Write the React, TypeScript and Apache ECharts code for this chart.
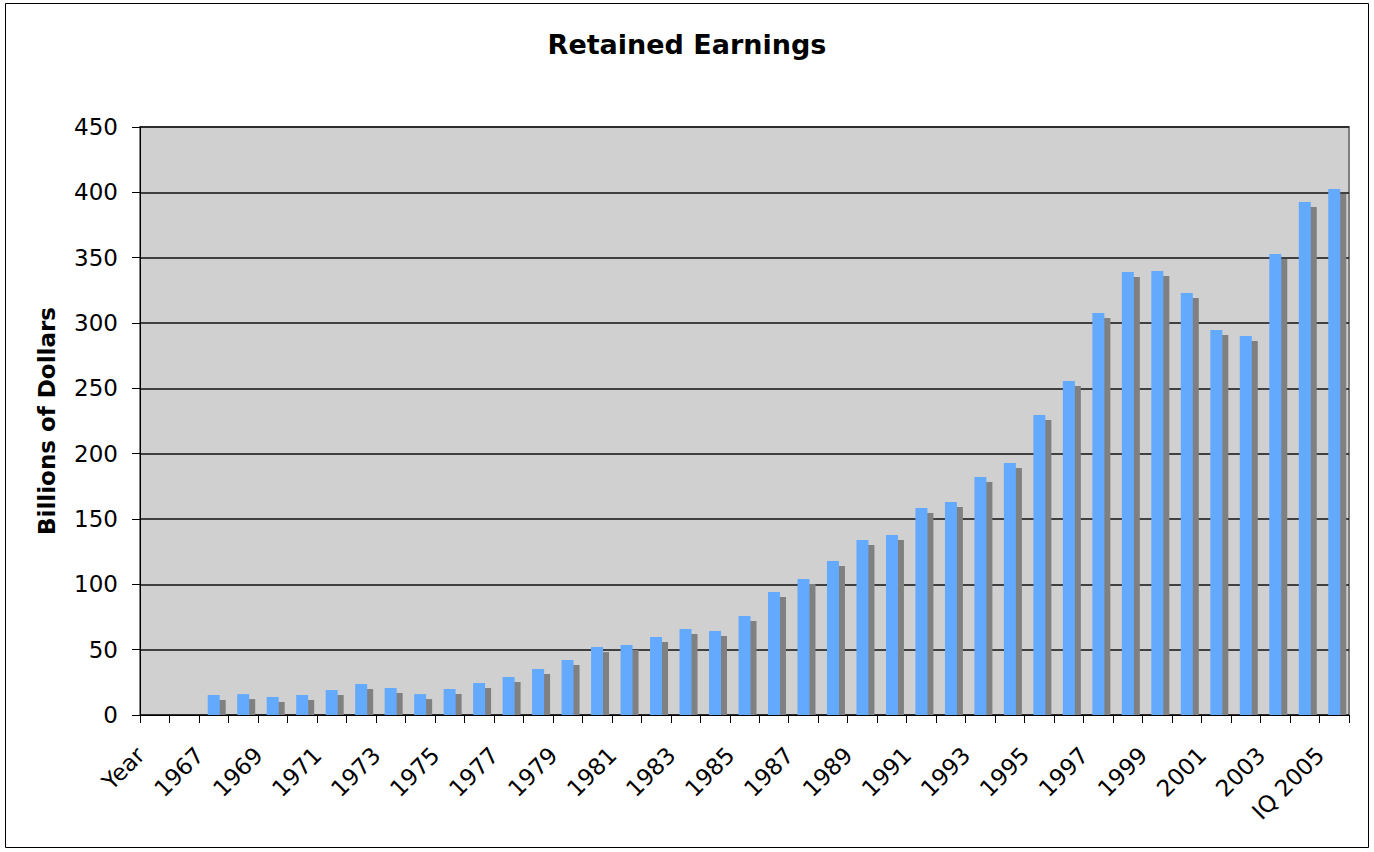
import React, { useEffect, useRef } from "react";
import * as echarts from "echarts";

const categories: string[] = [
  "Year", "1966", "1967", "1968", "1969", "1970", "1971", "1972", "1973", "1974",
  "1975", "1976", "1977", "1978", "1979", "1980", "1981", "1982", "1983", "1984",
  "1985", "1986", "1987", "1988", "1989", "1990", "1991", "1992", "1993", "1994",
  "1995", "1996", "1997", "1998", "1999", "2000", "2001", "2002", "2003", "2004",
  "IQ 2005",
];

const retainedEarnings: (number | null)[] = [
  null, null, 15.3, 16, 13.8, 15.3, 19.1, 23.7, 20.7, 16,
  19.9, 24.5, 29.1, 35.2, 42.1, 52, 53.6, 59.7, 65.8, 64.3,
  75.8, 94.1, 104.1, 117.9, 133.9, 137.8, 158.4, 163, 182.1, 192.9,
  229.6, 255.6, 307.7, 339, 339.8, 323, 294.6, 290, 352.8, 392.6,
  402.5,
];

const yTicks = { min: 0, max: 450, interval: 50 };

const FONT = "DejaVu Sans";

export default function App() {
  const ref = useRef<HTMLDivElement>(null);
  useEffect(() => {
    if (!ref.current) return;
    const chart = echarts.init(ref.current, undefined, { renderer: "svg" });
    const shadowData = retainedEarnings
      .map((v, i) => (v == null ? null : [i, v]))
      .filter((d) => d != null) as number[][];
    chart.setOption({
      animation: false,
      backgroundColor: "#ffffff",
      title: {
        text: "Retained Earnings",
        left: "center",
        top: 26,
        textStyle: { fontFamily: FONT, fontSize: 27, fontWeight: "bold", color: "#000" },
      },
      graphic: [
        {
          type: "rect",
          shape: { x: 5.5, y: 3.5, width: 1363, height: 844 },
          style: { fill: "none", stroke: "#000", lineWidth: 1 },
          silent: true,
        },
      ],
      grid: {
        left: 140,
        right: 25,
        top: 127,
        bottom: 137,
        show: true,
        backgroundColor: "#d0d0d0",
        borderColor: "#808080",
        borderWidth: 2,
      },
      xAxis: {
        type: "category",
        data: categories,
        axisLine: { show: true, lineStyle: { color: "#000", width: 1 } },
        axisTick: { show: true, interval: 0, length: 8, lineStyle: { color: "#000" } },
        axisLabel: {
          interval: 1,
          rotate: 45,
          margin: 22,
          padding: [0, 20, 0, 0],
          fontFamily: FONT,
          fontSize: 23,
          color: "#000",
        },
        splitLine: { show: false },
      },
      yAxis: {
        type: "value",
        min: yTicks.min,
        max: yTicks.max,
        interval: yTicks.interval,
        name: "Billions of Dollars",
        nameLocation: "middle",
        nameGap: 82,
        nameRotate: 90,
        nameTextStyle: { fontFamily: FONT, fontSize: 23, fontWeight: "bold", color: "#000" },
        axisLine: { show: true, lineStyle: { color: "#000", width: 1 } },
        axisTick: { show: true, length: 8, lineStyle: { color: "#000" } },
        axisLabel: { margin: 22, fontFamily: FONT, fontSize: 23, color: "#000" },
        splitLine: { show: true, lineStyle: { color: "#111", width: 1.5 } },
      },
      series: [
        {
          type: "custom",
          name: "shadow",
          z: 1,
          data: shadowData,
          encode: { x: 0, y: 1 },
          renderItem: (params: any, api: any) => {
            const idx = api.value(0);
            const val = api.value(1);
            const top = api.coord([idx, val]);
            const base = api.coord([idx, 0]);
            const h = base[1] - top[1] - 5;
            if (h <= 0) return null;
            return {
              type: "rect",
              shape: { x: top[0], y: top[1] + 5, width: 12, height: h },
              style: { fill: "#808080" },
            };
          },
        },
        {
          type: "bar",
          name: "Retained Earnings",
          z: 2,
          data: retainedEarnings,
          barWidth: 12,
          itemStyle: { color: "#63aaff" },
        },
      ],
    });
    return () => chart.dispose();
  }, []);
  return (
    <div
      ref={ref}
      style={{ position: "fixed", left: 0, top: 0, width: 1374, height: 852 }}
    />
  );
}
